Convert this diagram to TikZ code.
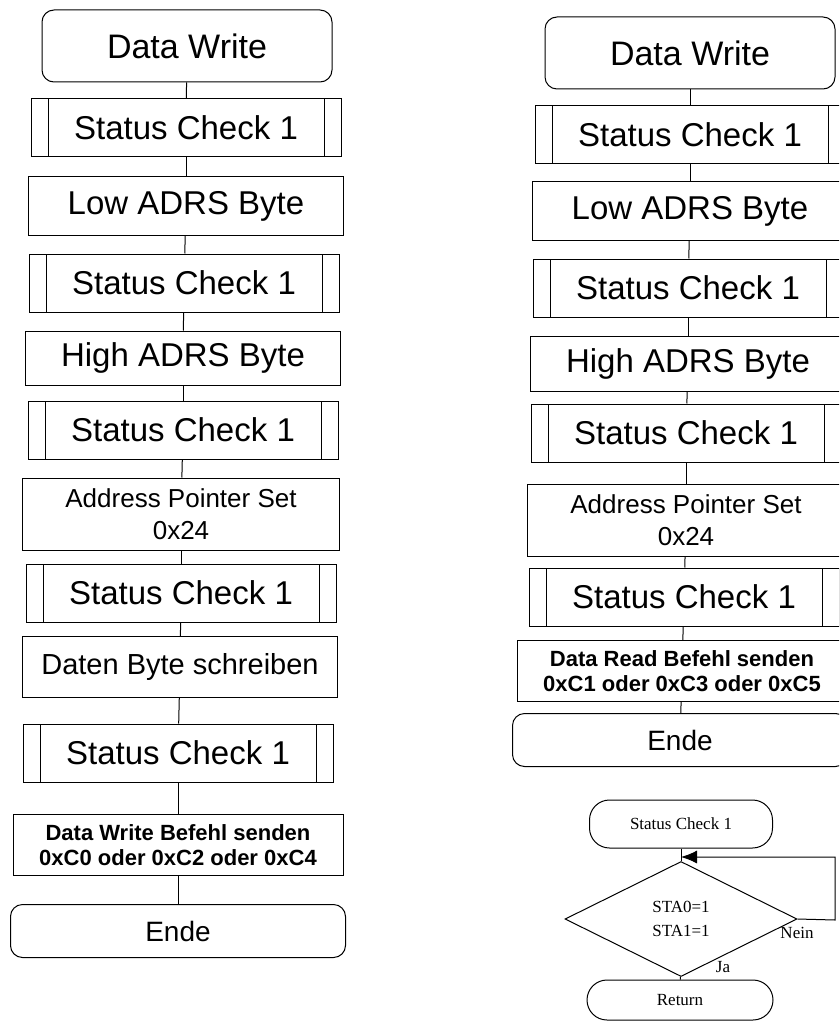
\documentclass[tikz,border=0pt]{standalone}
\usepackage{fontspec}
\setmainfont{Liberation Sans}
\newfontfamily\timesfont{Liberation Serif}
\usetikzlibrary{shapes.geometric,arrows.meta}
\begin{document}
\begin{tikzpicture}[x=1pt,y=-1pt,line width=1pt,
		every node/.style={draw,align=center,inner sep=0,line width=1pt},
		start/.style={rounded corners=12pt,minimum width=290pt,minimum height=72pt,font=\fontsize{34}{40}\selectfont},
		stop/.style={rounded corners=12pt,minimum width=335pt,minimum height=53pt,font=\fontsize{28}{34}\selectfont},
		proc/.style={minimum width=315pt,minimum height=58pt,font=\fontsize{33}{38}\selectfont},
		sub/.style={proc,minimum width=310pt,path picture={
				\draw ([xshift=17pt]path picture bounding box.north west) -- ([xshift=17pt]path picture bounding box.south west)
				([xshift=-17pt]path picture bounding box.north east) -- ([xshift=-17pt]path picture bounding box.south east);}},
		twoline/.style={minimum width=317pt,minimum height=72pt,font=\fontsize{26}{32}\selectfont},
		cmd/.style={minimum width=330pt,minimum height=61pt,font=\bfseries\fontsize{22}{25}\selectfont},
		rnd/.style={rounded corners=20pt,font=\timesfont\fontsize{17}{20}\selectfont},
		lbl/.style={draw=none,font=\timesfont\fontsize{17}{20}\selectfont}]
	\useasboundingbox (0,0) rectangle (839,1024);
	\clip (0,0) rectangle (839,1024);
	\node[start] (w1) at (187,46) {Data Write};
	\node[sub] (w2) at (186,128) {Status Check 1};
	\node[proc] (w3) at (186,206) {Low ADRS Byte};
	\node[sub] (w4) at (184,283) {Status Check 1};
	\node[proc,minimum height=54pt] (w5) at (183,358) {High ADRS Byte};
	\node[sub] (w6) at (183,430) {Status Check 1};
	\node[twoline] (w7) at (181,514) {Address Pointer Set\\0x24};
	\node[sub] (w8) at (181,593) {Status Check 1};
	\node[proc,minimum height=61pt,font=\fontsize{29}{34}\selectfont] (w9) at (180,667) {Daten Byte schreiben};
	\node[sub] (w10) at (178,753) {Status Check 1};
	\node[cmd] (w11) at (178,845) {Data Write Befehl senden\\0xC0 oder 0xC2 oder 0xC4};
	\node[stop] (w12) at (178,931) {Ende};
	\draw (w1) -- (w2); \draw (w2) -- (w3); \draw (w3) -- (w4);
	\draw (w4) -- (w5); \draw (w5) -- (w6); \draw (w6) -- (w7);
	\draw (w7) -- (w8); \draw (w8) -- (w9); \draw (w9) -- (w10);
	\draw (w10) -- (w11); \draw (w11) -- (w12);
	\node[start] (r1) at (690,53) {Data Write};
	\node[sub] (r2) at (690,135) {Status Check 1};
	\node[proc] (r3) at (690,211) {Low ADRS Byte};
	\node[sub] (r4) at (688,288) {Status Check 1};
	\node[proc,minimum height=55pt] (r5) at (688,364) {High ADRS Byte};
	\node[sub] (r6) at (686,433) {Status Check 1};
	\node[twoline] (r7) at (686,520) {Address Pointer Set\\0x24};
	\node[sub] (r8) at (684,597) {Status Check 1};
	\node[cmd] (r9) at (682,671) {Data Read Befehl senden\\0xC1 oder 0xC3 oder 0xC5};
	\node[stop] (r10) at (680,740) {Ende};
	\draw (r1) -- (r2); \draw (r2) -- (r3); \draw (r3) -- (r4);
	\draw (r4) -- (r5); \draw (r5) -- (r6); \draw (r6) -- (r7);
	\draw (r7) -- (r8); \draw (r8) -- (r9); \draw (r9) -- (r10);
	\node[rnd,minimum width=183pt,minimum height=48pt] (s1) at (681,824) {Status Check 1};
	\node[diamond,minimum width=232pt,minimum height=115pt,font=\timesfont\fontsize{17}{24}\selectfont] (s2) at (681,919) {STA0=1\\STA1=1};
	\node[rnd,minimum width=186pt,minimum height=40pt] (s3) at (680,1000) {Return};
	\coordinate (j) at (681,857);
	\coordinate (k) at (835,920);
	\draw (s1) -- (s2); \draw (s2) -- (s3);
	\draw[-{Latex[length=16pt,width=13pt]}] (s2.east) -- (k) |- (j);
	\node[lbl] (no) at (797,933) {Nein};
	\node[lbl] (yes) at (723,967) {Ja};
\end{tikzpicture}
\end{document}
